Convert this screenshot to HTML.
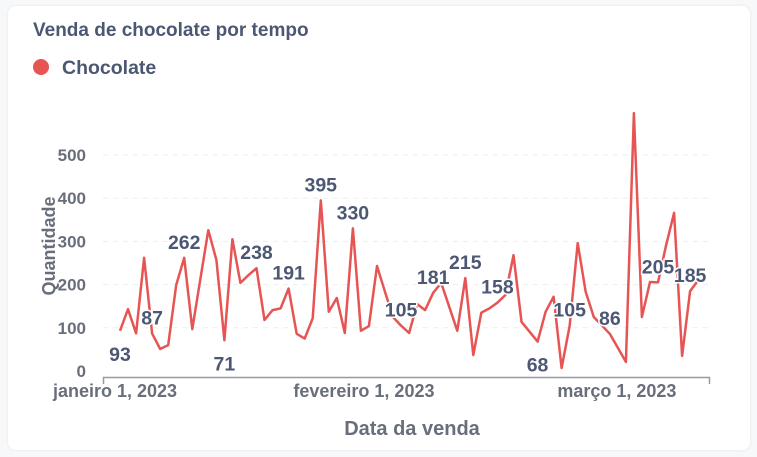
<!DOCTYPE html>
<html><head><meta charset="utf-8"><style>
html,body{margin:0;padding:0;width:757px;height:457px;background:#f6f8fa;overflow:hidden;font-family:"Liberation Sans",sans-serif}
.card{position:absolute;left:8px;top:6px;width:742px;height:444px;background:#fff;border-radius:8px;box-shadow:0 0 3px rgba(0,0,0,0.08)}
.title{position:absolute;left:25px;top:14px;font-size:19px;font-weight:bold;color:#4c5773}
.legend{position:absolute;left:25px;top:51px;font-size:19.5px;font-weight:bold;color:#4c5773}
.dot{display:inline-block;width:16px;height:16px;border-radius:50%;background:#e75454;vertical-align:-1px;margin-right:13px}
svg{position:absolute;left:0;top:0}
</style></head><body>
<div class="card">
<div class="title">Venda de chocolate por tempo</div>
<div class="legend"><span class="dot"></span>Chocolate</div>
</div>
<svg id="chart" width="757" height="457"></svg>
<script>
const days=[0,1,2,3,4,5,6,7,8,9,10,11,12,13,14,15,16,17,18,19,20,21,22,23,24,25,26,27,28,29,30,31,32,33,34,35,36,37,38,39,40,42,43,44,45,46,47,48,49,50,52,53,54,55,56,57,58,59,61,63,64,65,66,67,68,69,70,71,72];
const values=[93,143,87,262,87,51,60,199,262,97,212,326,257,71,305,204,222,238,118,141,145,191,86,75,122,395,137,169,88,330,93,104,243,183,125,105,88,155,141,181,204,93,215,37,135,145,158,176,268,114,68,137,172,7,105,296,183,125,86,21,597,125,206,205,290,366,35,185,210];
const labelDays=[0,4,8,13,17,21,25,29,35,39,43,47,52,56,61,67,71];
const belowDays=[0,13,52];
const yTicks=[0,100,200,300,400,500];
const xTickDays=[0,31,62.5];
const xTickLabels=["janeiro 1, 2023","fevereiro 1, 2023","março 1, 2023"];
const NS="http://www.w3.org/2000/svg";
const svg=document.getElementById('chart');
const xS=d=>120+d*8.03;
const yS=v=>371-v*0.432;
function mk(t,a,p){const e=document.createElementNS(NS,t);for(const k in a)e.setAttribute(k,a[k]);(p||svg).appendChild(e);return e;}
yTicks.forEach(v=>{
  if(v>0){const g=mk('line',{x1:103,x2:710,y1:yS(v),y2:yS(v),stroke:'#ecedef','stroke-dasharray':'5,5'});
  
  }
  const t=mk('text',{x:86,y:yS(v)+6,'text-anchor':'end','font-size':'17','font-weight':'bold',fill:'#696e7b'});t.textContent=v;
  
  
});
const ax=mk('path',{d:'M103.5,384 V377.5 H709.5 V384',fill:'none',stroke:'#949aab','stroke-width':1.5});


xTickDays.forEach((d,i)=>{const t=mk('text',{x:xS(d)-5,y:397,'text-anchor':'middle','font-size':'18','font-weight':'bold',fill:'#696e7b'});t.textContent=xTickLabels[i];
  
  });
const yt=mk('text',{x:0,y:0,transform:'translate(55,246) rotate(-90)','text-anchor':'middle','font-size':'18','font-weight':'bold',fill:'#696e7b'});yt.textContent='Quantidade';


const xt=mk('text',{x:412,y:435,'text-anchor':'middle','font-size':'20','font-weight':'bold',fill:'#696e7b'});xt.textContent='Data da venda';


const pts=days.map((d,i)=>xS(d).toFixed(1)+','+yS(values[i]).toFixed(1)).join(' ');
const pl=mk('polyline',{points:pts,fill:'none',stroke:'#e75454','stroke-width':2.5,'stroke-linejoin':'round'});


labelDays.forEach(d=>{const i=days.indexOf(d);if(i<0)return;const v=values[i];
  const below=belowDays.includes(d);
  const t=mk('text',{x:xS(d),y:below?yS(v)+30:yS(v)-9,'text-anchor':'middle','font-size':'19.5','font-weight':'bold',fill:'#4c5773',stroke:'#fff','stroke-width':3,'paint-order':'stroke'});
  t.textContent=v;
  
  });
</script>
</body></html>
